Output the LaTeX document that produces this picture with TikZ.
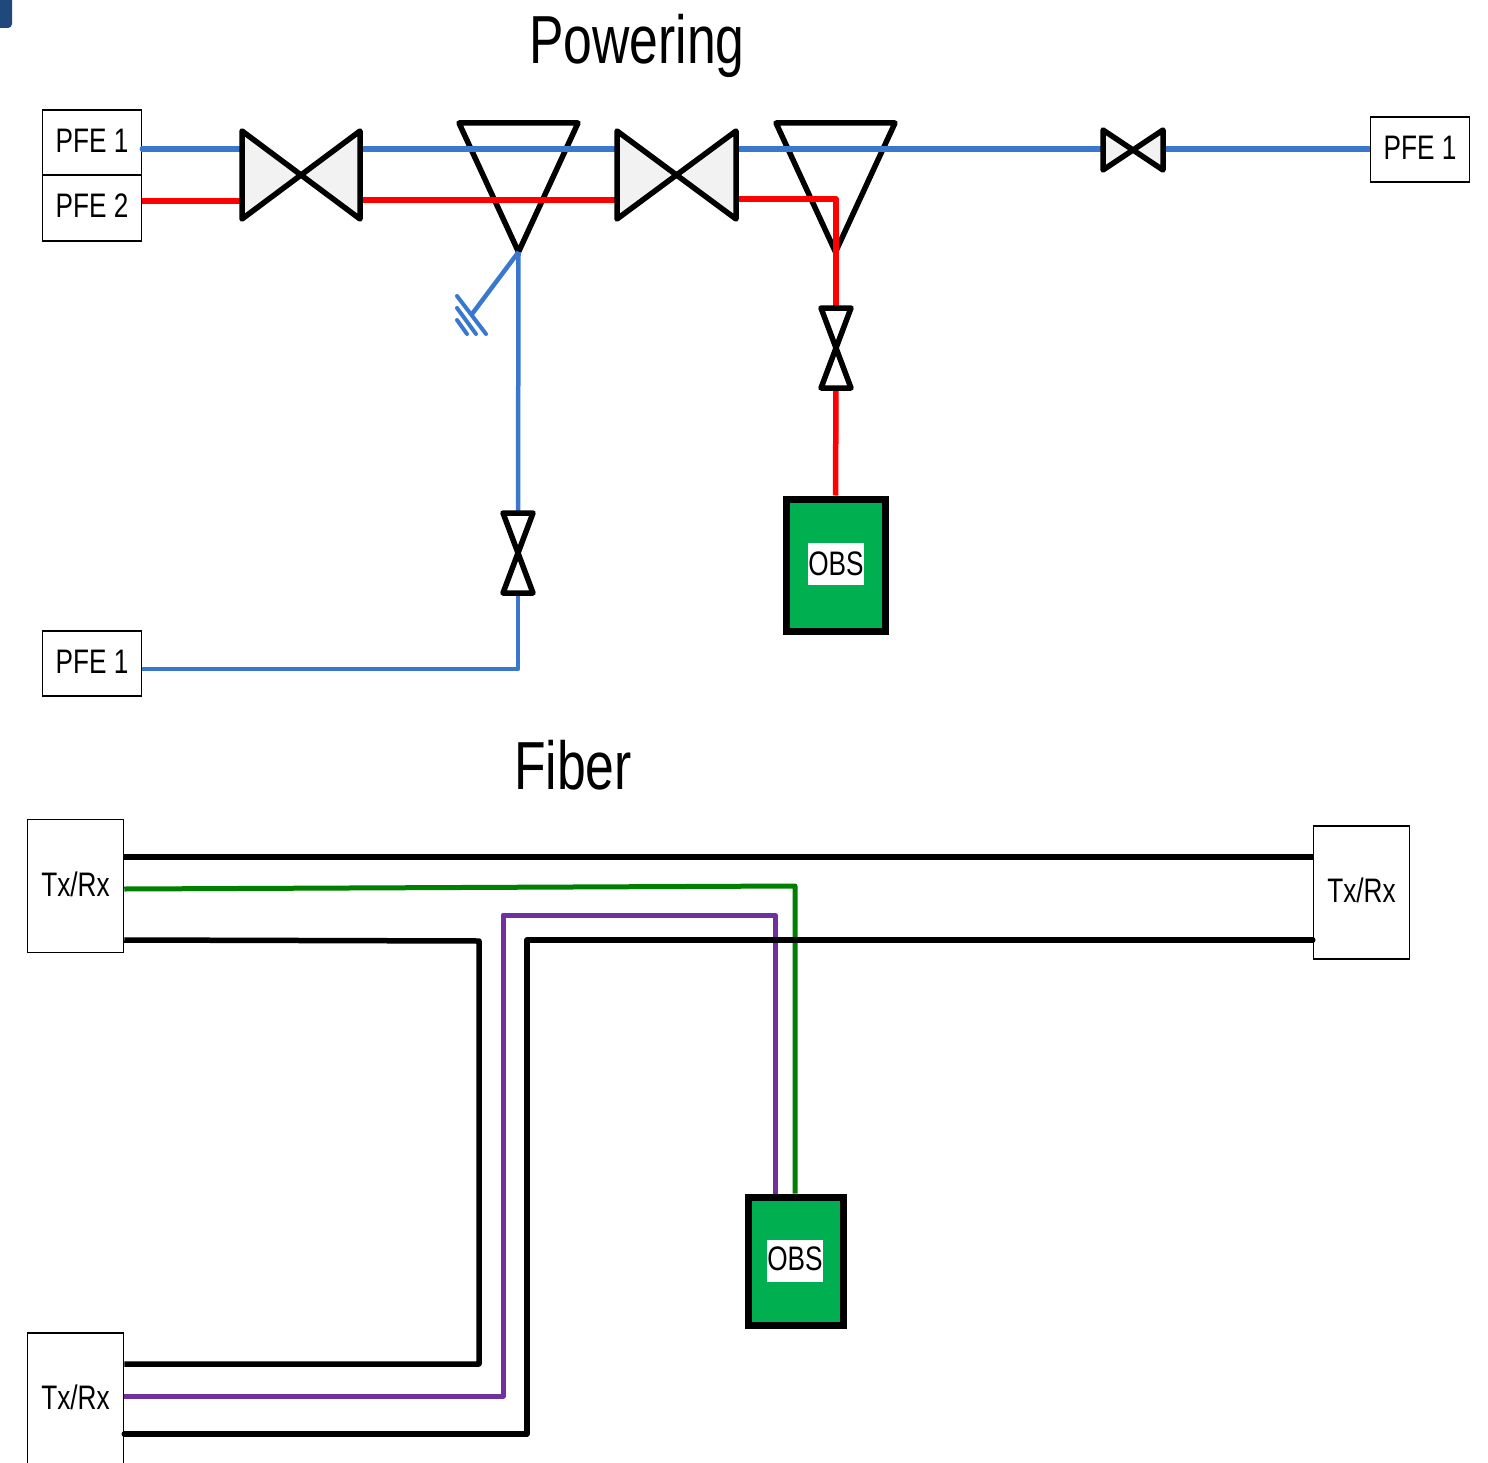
\documentclass[tikz,border=0pt]{standalone}
\usepackage{fontspec}
\setmainfont{Liberation Sans}
\newfontfamily\boxfont[FakeStretch=0.77]{Liberation Sans}
\newfontfamily\titlefont[FakeStretch=0.76]{Liberation Sans}
\usetikzlibrary{positioning}
\definecolor{powerblue}{RGB}{58,120,208}
\definecolor{obsgreen}{RGB}{0,176,80}
\definecolor{fibergreen}{RGB}{0,128,0}
\definecolor{fiberpurple}{RGB}{112,48,160}
\definecolor{cornerblue}{RGB}{31,73,125}
\newcommand{\valveH}[1]{\draw[valveline, fill=gray!10] (#1.north west) -- (#1.south east) -- (#1.north east) -- (#1.south west) -- cycle;}
\newcommand{\valveV}[1]{\draw[valveline] (#1.north west) -- (#1.north east) -- (#1.south west) -- (#1.south east) -- cycle;}
\newcommand{\funnel}[1]{\draw[valveline] (#1.north west) -- (#1.north east) -- (#1.south) -- cycle;}
\begin{document}
\begin{tikzpicture}[x=1pt, y=-1pt,
        boxnode/.style={draw, line width=1.5pt, inner sep=0pt, text depth=4pt, font=\boxfont\fontsize{34}{36}\selectfont},
        pfebox/.style={boxnode, minimum width=99pt, minimum height=65pt},
        trxbox/.style={boxnode, minimum width=96pt, minimum height=133pt},
        title/.style={font=\titlefont\fontsize{68}{72}\selectfont},
        valvebox/.style={inner sep=0pt, outer sep=0pt},
        valveline/.style={draw=black, line width=5.5pt, line join=round},
        obsbox/.style={draw=black, line width=7pt, fill=obsgreen, inner sep=0pt},
        obstext/.style={fill=white, inner sep=0pt, minimum width=56pt, minimum height=42pt, font=\boxfont\fontsize{34}{36}\selectfont},
        bluewire/.style={draw=powerblue, line width=5.5pt},
        redwire/.style={draw=red, line width=5.5pt, line join=round},
        blackwire/.style={draw=black, line width=5.5pt, line join=round},
        greenwire/.style={draw=fibergreen, line width=5pt, line join=round},
        purplewire/.style={draw=fiberpurple, line width=5pt, line join=round},
    ]
        \useasboundingbox (0,0) rectangle (1488,1463);
        \fill[cornerblue, rounded corners=4pt] (-8,-8) rectangle (12,28);

        \node[title] (powering) at (637,46) {Powering};
        \node[title] (fiber) at (573,765) {Fiber};

        \node[pfebox] (pfeA) at (92,142.5) {PFE 1};
        \node[pfebox, minimum height=66pt] (pfeB) at (92,208) {PFE 2};
        \node[pfebox] (pfeC) at (1420,149.5) {PFE 1};
        \node[pfebox] (pfeD) at (92,663.5) {PFE 1};

        \node[valvebox, minimum width=118pt, minimum height=88pt] (valveA) at (301,175) {};
        \node[valvebox, minimum width=119pt, minimum height=88pt] (valveB) at (676.5,175) {};
        \node[valvebox, minimum width=60pt, minimum height=40pt] (valveC) at (1133,150) {};
        \node[valvebox, minimum width=30pt, minimum height=80pt] (valveD) at (836,348) {};
        \node[valvebox, minimum width=30pt, minimum height=80pt] (valveE) at (518,553) {};
        \node[valvebox, minimum width=119pt, minimum height=129pt] (splitA) at (518.5,187.5) {};
        \node[valvebox, minimum width=119pt, minimum height=129pt] (splitB) at (835.5,187.5) {};

        \node[obsbox, minimum width=99pt, minimum height=132pt] (obsA) at (835.5,565) {};
        \node[obstext] (obsAtext) at (836,564) {OBS};
        \node[obsbox, minimum width=95pt, minimum height=128pt] (obsB) at (795.5,1261) {};
        \node[obstext, minimum width=55pt, text depth=4pt] (obsBtext) at (795,1261) {OBS};

        \node[trxbox] (trxA) at (75.5,886) {Tx/Rx};
        \node[trxbox] (trxB) at (1361.5,892.5) {Tx/Rx};
        \node[trxbox] (trxC) at (75.5,1399.5) {Tx/Rx};

        \coordinate (busblue) at (0,149);
        \coordinate (busred) at (0,200);
        \coordinate (redcorner) at (836,199);
        \coordinate (bluecorner) at (518,669);
        \coordinate (groundtip) at (472,314);
        \coordinate (greencorner) at (795,886);
        \coordinate (blackcorner) at (479,941);
        \coordinate (purplelow) at (503,1396);
        \coordinate (purplehigh) at (503,915);
        \coordinate (purpleturn) at (775,915);
        \coordinate (blacklow) at (527,1434);
        \coordinate (blackhigh) at (527,940);

        \funnel{splitA}
        \funnel{splitB}

        % Powering lines
        \draw[bluewire, line cap=round] (pfeA.east |- busblue) -- (valveA.west |- busblue);
        \draw[bluewire] (valveA.east |- busblue) -- (valveB.west |- busblue);
        \draw[bluewire] (valveB.east |- busblue) -- (valveC.west |- busblue);
        \draw[bluewire] (valveC.east |- busblue) -- (pfeC.west |- busblue);
        \draw[redwire] (pfeB.east |- 0,201) -- (valveA.west |- 0,201);
        \draw[redwire] (valveA.east |- busred) -- (valveB.west |- busred);
        \draw[redwire] (valveB.east |- redcorner) -- (redcorner) -- (valveD.north);
        \draw[redwire] (valveD.south) -- (obsA.north);
        \draw[bluewire, line width=4.5pt] (splitA.south) -- (valveE.north);
        \draw[bluewire, line width=4.5pt, line join=round] (valveE.south) -- (bluecorner) -- (pfeD.east |- bluecorner);
        \draw[bluewire, line width=4.5pt] (splitA.south) -- (groundtip);

        % Ground
        \draw[bluewire, line width=4pt, line cap=round] (457,296) -- (486,334);
        \draw[bluewire, line width=4pt, line cap=round] (457,308) -- (476,334);
        \draw[bluewire, line width=4pt, line cap=round] (457,320) -- (467,334);

        \valveH{valveA}
        \valveH{valveB}
        \valveH{valveC}
        \valveV{valveD}
        \valveV{valveE}

        % Fiber lines
        \draw[blackwire] (trxA.east |- 0,857) -- (trxB.west |- 0,857);
        \draw[greenwire] (trxA.east |- 0,889) -- (greencorner) -- (obsB.north -| greencorner);
        \draw[blackwire] (trxA.east |- 0,940) -- (blackcorner) -- (blackcorner |- 0,1364) -- (trxC.east |- 0,1364);
        \draw[purplewire] (trxC.east |- purplelow) -- (purplelow) -- (purplehigh) -- (purpleturn) -- (obsB.north -| purpleturn);
        \draw[blackwire, line cap=round] (trxC.east |- blacklow) -- (blacklow) -- (blackhigh) -- (trxB.west |- blackhigh);
    \end{tikzpicture}
\end{document}
